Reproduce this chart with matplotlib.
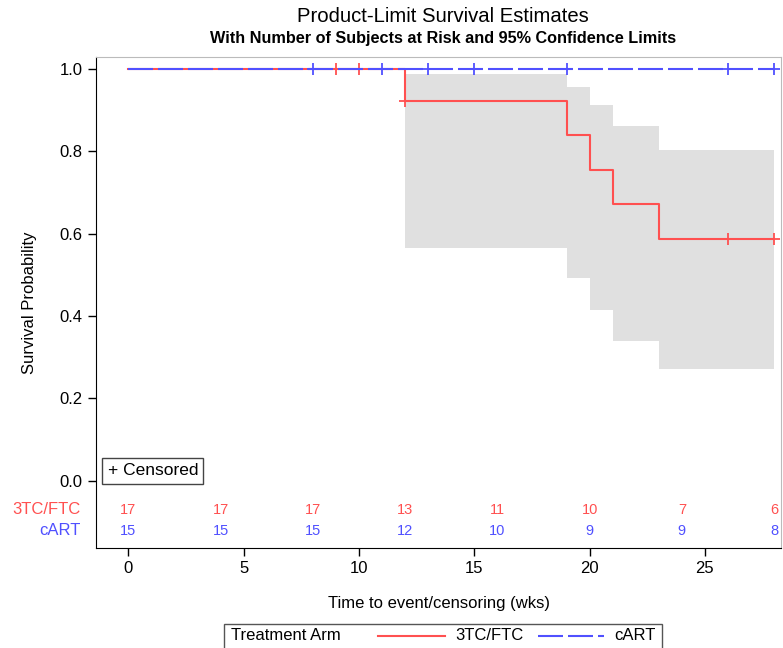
import numpy as np
import matplotlib
matplotlib.use('Agg')
import matplotlib.pyplot as plt
from matplotlib.lines import Line2D
from matplotlib.patches import Rectangle

plt.rcParams['font.family'] = ['Liberation Sans', 'DejaVu Sans']
plt.rcParams['lines.scale_dashes'] = False

# KM step data
ftc_t = [0, 12, 19, 20, 21, 23, 28]
ftc_s = [1.0, 0.923, 0.839, 0.755, 0.671, 0.587, 0.587]
ftc_cens_t = [9, 10, 12, 26, 28]
ftc_cens_s = [1.0, 1.0, 0.923, 0.587, 0.587]

# 95% confidence band for 3TC/FTC
band_t = [12, 19, 20, 21, 23, 28]
band_lo = [0.566, 0.493, 0.415, 0.340, 0.272, 0.272]
band_hi = [0.988, 0.956, 0.913, 0.862, 0.803, 0.803]

cart_t = [0, 28]
cart_s = [1.0, 1.0]
cart_cens_t = [8, 11, 13, 15, 19, 26, 28]

# numbers at risk
risk_t = [0, 4, 8, 12, 16, 20, 24, 28]
risk_ftc = [17, 17, 17, 13, 11, 10, 7, 6]
risk_cart = [15, 15, 15, 12, 10, 9, 9, 8]

red = '#ff5050'
blue = '#5050ff'

fig = plt.figure(figsize=(7.83, 6.48), dpi=100)
ax = fig.add_axes([96/783, 1 - 548/648, (781-96)/783, (548-57)/648])

ax.fill_between(band_t, band_lo, band_hi, step='post', color='#e0e0e0', lw=0)
ax.step(ftc_t, ftc_s, where='post', color=red, lw=1.5)
ax.plot(ftc_cens_t, ftc_cens_s, '+', color=red, ms=8, mew=1.3)
ax.plot(cart_t, cart_s, color=blue, lw=1.5, dashes=(18, 3.6))
ax.plot(cart_cens_t, [1.0]*len(cart_cens_t), '+', color=blue, ms=8, mew=1.3)

# at-risk table inside the axes
for t, a, b in zip(risk_t, risk_ftc, risk_cart):
    ax.text(t, -0.070, str(a), color=red, ha='center', va='center', fontsize=10.5)
    ax.text(t, -0.121, str(b), color=blue, ha='center', va='center', fontsize=10.5)
ax.text(-0.022, -0.070, '3TC/FTC', color=red, ha='right', va='center', fontsize=12,
        transform=ax.get_yaxis_transform())
ax.text(-0.022, -0.121, 'cART', color=blue, ha='right', va='center', fontsize=12,
        transform=ax.get_yaxis_transform())

ax.text(-0.9, 0.024, '+ Censored', ha='left', va='center', fontsize=12.5,
        bbox=dict(boxstyle='square,pad=0.3', fc='white', ec='#444444', lw=1))

ax.set_xlim(-1.4, 28.3)
ax.set_ylim(-0.163, 1.029)
ax.set_xticks([0, 5, 10, 15, 20, 25])
ax.set_yticks([0.0, 0.2, 0.4, 0.6, 0.8, 1.0])
ax.set_yticklabels(['0.0', '0.2', '0.4', '0.6', '0.8', '1.0'])
ax.tick_params(labelsize=12, length=6, width=1)
ax.set_xlabel('Time to event/censoring (wks)', fontsize=12, labelpad=14)
ax.set_ylabel('Survival Probability', fontsize=12, labelpad=16)
for s in ['top', 'right']:
    ax.spines[s].set_color('#bbbbbb')

fig.text(443/783, 1 - 17/648, 'Product-Limit Survival Estimates', ha='center', va='center', fontsize=14.6)
fig.text(443/783, 1 - 38/648, 'With Number of Subjects at Risk and 95% Confidence Limits',
         ha='center', va='center', fontsize=11.7, fontweight='bold')

# bottom legend drawn by hand
ly = 1 - 636/648
fig.patches.append(Rectangle((224/783, -0.01), (662-224)/783, 0.01 + (648-624)/648,
                             transform=fig.transFigure, fill=False, ec='#555555', lw=1))
fig.text(231/783, ly, 'Treatment Arm', ha='left', va='center', fontsize=12)
fig.lines.append(Line2D([378/783, 445/783], [ly, ly], transform=fig.transFigure, color=red, lw=1.5))
fig.text(455/783, ly, '3TC/FTC', ha='left', va='center', fontsize=12)
fig.lines.append(Line2D([538/783, 604/783], [ly, ly], transform=fig.transFigure, color=blue, lw=1.5,
                        dashes=(18, 3.6)))
fig.text(614/783, ly, 'cART', ha='left', va='center', fontsize=12)

fig.savefig('out.png', dpi=100)
